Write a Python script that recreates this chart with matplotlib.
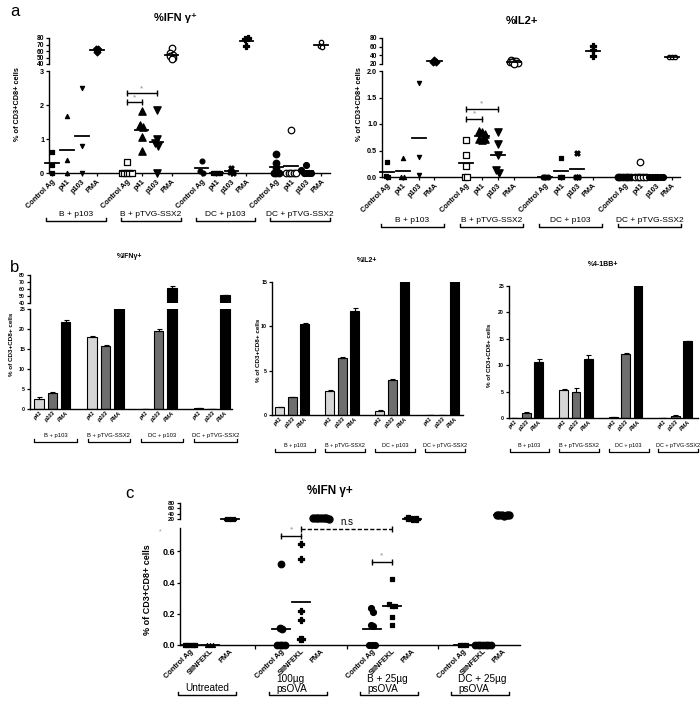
import numpy as np
import matplotlib.pyplot as plt
from matplotlib.transforms import blended_transform_factory

plt.rcParams['font.family'] = ['Liberation Sans', 'DejaVu Sans']
plt.rcParams['axes.linewidth'] = 1.0

W, H = 700, 703

# ---------- panel a: dot plots (IFNg / IL2)
a_groups = ["B + p103", "B + pTVG-SSX2", "DC + p103", "DC + pTVG-SSX2"]
a_stims = ["Control Ag", "p41", "p103", "PMA"]
ifn_a = [
    [0.61, 0.25, 0.0], [1.69, 0.38, 0.0], [2.49, 0.80, 0.0], [63, 58, 63],
    [0.32, 0, 0, 0, 0, 0], [1.82, 1.42, 1.36, 1.07, 0.65], [1.85, 1.0, 0.87, 0.8, 0.0], [65, 57, 54, 52, 50, 48],
    [0.35, 0.05, 0.0], [0, 0, 0, 0], [0.14, 0.02, 0.0], [79, 80, 67],
    [0.56, 0.28, 0.15, 0, 0, 0], [1.27, 0, 0, 0, 0, 0], [0.23, 0.1, 0, 0, 0, 0], [74, 67, 66],
]
il2_a = [
    [0.29, 0.02, 0.0], [0.35, 0.0, 0.0], [1.77, 0.38, 0.03], [30, 25, 24],
    [0.70, 0.42, 0.2, 0, 0], [0.87, 0.85, 0.82, 0.72, 0.70, 0.72], [0.85, 0.62, 0.42, 0.14, 0.08], [30, 28, 27, 25, 24, 23, 22, 21],
    [0, 0, 0], [0.36, 0, 0], [0.46, 0, 0], [62, 52, 38],
    [0, 0, 0, 0, 0, 0], [0.28, 0, 0, 0, 0, 0], [0, 0, 0, 0, 0, 0], [36, 35, 37],
]

# ---------- panel b: bar charts (mean, upper error)
b_groups = a_groups
b_stims = ["p41", "p103", "PMA"]
ifn_b = [2.6, 4.0, 21.8, 17.9, 15.7, 30, 0, 19.4, 61, 0.3, 0.1, 51]
ifn_b_err = [0.3, 0.2, 0.5, 0.3, 0.3, 0, 0, 0.5, 3, 0, 0, 0]
il2_b = [0.9, 2.0, 10.3, 2.7, 6.4, 11.7, 0.45, 4.0, 16, 0.05, 0.05, 16]
il2_b_err = [0.05, 0.05, 0.05, 0.15, 0.15, 0.35, 0.1, 0.1, 0, 0, 0, 0]
bb_b = [0, 1.0, 10.6, 5.3, 5.0, 11.2, 0.1, 12.2, 26, 0, 0.4, 14.6]
bb_b_err = [0, 0.1, 0.5, 0.2, 0.6, 0.7, 0, 0.2, 0, 0, 0.1, 0]

# ---------- panel c: dot plot
c_groups = ["Untreated", "100\u00b5g\npsOVA", "B + 25\u00b5g\npsOVA", "DC + 25\u00b5g\npsOVA"]
c_stims = ["Control Ag", "SIINFEKL", "PMA"]
ifn_c = [
    [0, 0, 0, 0, 0], [0, 0, 0], [20, 20, 20, 20],
    [0.52, 0.11, 0.10, 0, 0, 0, 0], [0.65, 0.55, 0.22, 0.16, 0.04, 0.04], [24, 24, 23, 23, 22, 22, 21],
    [0.24, 0.21, 0.13, 0.12, 0, 0, 0], [0.42, 0.26, 0.25, 0.25, 0.18, 0.13], [22, 22, 21, 21, 20],
    [0, 0, 0], [0, 0, 0, 0, 0, 0, 0], [36, 35, 34, 33, 35, 34],
]

# marker styles (marker, filled, size)
a_marks = [('s', 1, 9), ('^', 1, 9), ('v', 1, 9), ('D', 1, 12),
           ('s', 0, 16), ('^', 1, 28), ('v', 1, 28), ('o', 0, 22),
           ('o', 1, 12), ('s', 1, 12), ('X', 1, 14), ('P', 1, 16),
           ('o', 1, 22), ('o', 0, 22), ('o', 1, 18), ('o', 0, 10)]
c_marks = [('s', 1, 10), ('^', 1, 8), ('P', 1, 12),
           ('o', 1, 22), ('P', 1, 20), ('o', 1, 26),
           ('o', 1, 18), ('s', 1, 5), ('P', 1, 14),
           ('s', 1, 10), ('o', 1, 22), ('o', 1, 26)]

fig = plt.figure(figsize=(7, 7.03), dpi=100)


def rect(l, t, r, b):
    return [l / W, 1 - b / H, (r - l) / W, (b - t) / H]


def style(ax, fs=5.5, bold=True):
    ax.patch.set_alpha(0)
    ax.spines['top'].set_visible(False)
    ax.spines['right'].set_visible(False)
    ax.tick_params(direction='out', length=2.5, width=0.9, labelsize=fs, pad=1)
    if bold:
        for t in ax.get_yticklabels():
            t.set_fontweight('bold')


def spread(vals, step, split, up_top):
    offs = np.zeros(len(vals))
    done = np.zeros(len(vals), bool)
    for i in range(len(vals)):
        if done[i]:
            continue
        tol = 0.04 * (split if vals[i] <= split else up_top)
        idx = np.where(~done & (np.abs(vals - vals[i]) <= tol))[0]
        done[idx] = True
        offs[idx] = (np.arange(len(idx)) - (len(idx) - 1) / 2) * step
    return offs


def dots(ax_up, ax_lo, data, marks, pos, split, up_top, step, half):
    for k, vals in enumerate(data):
        vals = np.asarray(vals, float)
        m, filled, sz = marks[k]
        x = pos[k] + spread(vals, step, split, up_top)
        for ax, sel in ((ax_lo, vals <= split), (ax_up, vals > split)):
            if sel.any():
                ax.scatter(x[sel], vals[sel], marker=m, s=sz,
                           facecolor='k' if filled else 'white', edgecolor='k',
                           linewidths=0.9, clip_on=False, zorder=3)
        mean = vals.mean()
        ax = ax_lo if mean <= split else ax_up
        ax.plot([pos[k] - half, pos[k] + half], [mean, mean], color='k', lw=1.3,
                clip_on=False, zorder=4)


def sig(ax, x0, x1, y, ys, ls='-', label='*', fs=6, color='0.55'):
    ax.plot([x0, x1], [y, y], color='k', lw=1, ls=ls, clip_on=False)
    ax.plot([x0, x1], [y, y], ls='none', marker='|', ms=4, mew=1, color='k', clip_on=False)
    ax.text((x0 + x1) / 2, ys, label, ha='center', va='center', fontsize=fs, color=color)


def bracket(ax, x0, x1, y_px, text, t_px, fs, ha='center', tx=None, weight='normal', lw=1.0):
    tr = blended_transform_factory(ax.transData, fig.transFigure)
    yb, yt = 1 - y_px / H, 1 - (y_px - 3) / H
    ax.plot([x0, x0, x1, x1], [yt, yb, yb, yt], transform=tr, color='k', lw=lw, clip_on=False)
    if tx is None:
        tx = (x0 + x1) / 2
    ax.text(tx, 1 - t_px / H, text, transform=tr, ha=ha, va='center', fontsize=fs,
            fontweight=weight, linespacing=1.05)


def xlim_px(ax, l, r, c0, u):
    ax.set_xlim((l - c0) / u, (r - c0) / u)


def broken(l, r, up, lo, ylim_up, ylim_lo, yt_up, yt_lo, c0, u, fs_up=5.5, fs_lo=5.5):
    ax_up = fig.add_axes(rect(l, up[0], r, up[1]))
    ax_lo = fig.add_axes(rect(l, lo[0], r, lo[1]))
    ax_up.set_ylim(*ylim_up)
    ax_up.set_yticks(yt_up)
    ax_lo.set_ylim(*ylim_lo)
    ax_lo.set_yticks(yt_lo)
    for ax, fs in ((ax_up, fs_up), (ax_lo, fs_lo)):
        xlim_px(ax, l, r, c0, u)
        style(ax, fs)
    ax_up.spines['bottom'].set_visible(False)
    ax_up.tick_params(axis='x', bottom=False, labelbottom=False)
    return ax_up, ax_lo


# ================= panel a =================
fig.text(10 / W, 1 - 12 / H, "a", fontsize=12, va='center')
pos_a = [5 * g + j for g in range(4) for j in range(4)]
lab_a = [s for g in range(4) for s in a_stims]

for (l, r, c0, u, data, ylo, ytlo, yup, ytup, title, tx, ty, ylx, sigs, br_y, br_t) in [
    (49, 330, 52, 14.95, ifn_a, (0, 3), [0, 1, 2, 3], (40, 80), [40, 50, 60, 70, 80],
     "%IFN \u03b3\u207a", 175, 18, 18, [(5, 6, 2.1, 2.22), (5, 7, 2.35, 2.47)], 221, 214),
    (382, 680, 387, 15.83, il2_a, (0, 2.0), [0, 0.5, 1.0, 1.5, 2.0], (20, 80), [20, 40, 60, 80],
     "%IL2+", 522, 21, 359, [(5, 6, 1.1, 1.19), (5, 7, 1.28, 1.37)], 227, 220),
]:
    lo_b = 173 if data is ifn_a else 177
    ax_up, ax_lo = broken(l, r, (38, 64), (71, lo_b), yup, ylo, ytup, ytlo, c0, u,
                          fs_up=4.8, fs_lo=5.2)
    if data is il2_a:
        ax_lo.set_yticklabels(["0.0", "0.5", "1.0", "1.5", "2.0"], fontweight='bold')
    dots(ax_up, ax_lo, data, a_marks, pos_a, ylo[1], yup[1], 0.17, 0.45)
    ax_lo.set_xticks(pos_a)
    ax_lo.set_xticklabels(lab_a, rotation=45, ha='right', va='top', rotation_mode='anchor',
                          fontsize=5.3, fontweight='bold')
    for x0, x1, y, ys in sigs:
        sig(ax_lo, x0, x1, y, ys)
    for g in range(4):
        bracket(ax_lo, 5 * g - 0.4, 5 * g + 3.6, br_y, a_groups[g], br_t, 6)
    fig.text(tx / W, 1 - ty / H, title, ha='center', va='center', fontsize=8, fontweight='bold')
    fig.text(ylx / W, 1 - 104 / H, "% of CD3+CD8+ cells", rotation=90, ha='center',
             va='center', fontsize=5.3, fontweight='bold')

# ================= panel b =================
fig.text(10 / W, 1 - 268 / H, "b", fontsize=12, va='center')
pos_b = [4 * g + j for g in range(4) for j in range(3)]
lab_b = [s for g in range(4) for s in b_stims]
bar_cols = ['#d6d6d6', '#6e6e6e', '#000000'] * 4


def bars(ax, vals, errs):
    ax.bar(pos_b, vals, width=0.72, color=bar_cols, edgecolor='k', linewidth=0.8, zorder=2)
    ax.errorbar(pos_b, vals, yerr=[np.zeros(len(errs)), errs], fmt='none', ecolor='k',
                elinewidth=0.8, capsize=1.8, capthick=0.8, zorder=3)


def bar_ticks(ax):
    ax.set_xticks(pos_b)
    ax.set_xticklabels(lab_b, rotation=45, ha='right', va='top', rotation_mode='anchor',
                       fontsize=4, fontstyle='italic', fontweight='bold')
    ax.tick_params(axis='x', length=0)


# left: IFN (broken)
bu, bl = broken(30, 232, (275, 303), (309, 409), (40, 80), (0, 25), [40, 50, 60, 70, 80],
                [0, 5, 10, 15, 20, 25], 39, 13.3, fs_up=3.8, fs_lo=3.8)
bars(bu, ifn_b, ifn_b_err)
bars(bl, ifn_b, ifn_b_err)
bar_ticks(bl)
for g in range(4):
    bracket(bl, 4 * g - 0.35, 4 * g + 2.85, 442, b_groups[g], 436, 4.2, lw=0.9)
fig.text(130 / W, 1 - 257 / H, "%IFN\u03b3+", ha='center', va='center', fontsize=5, fontweight='bold')
fig.text(12 / W, 1 - 344 / H, "% of CD3+CD8+ cells", rotation=90, ha='center', va='center',
         fontsize=4.5, fontweight='bold')

# middle: IL2, right: 4-1BB
for (l, r, t, b, c0, u, vals, errs, ylim, yt, title, tx, ty, ylx, yly) in [
    (272, 463, 282, 415, 279.5, 12.5, il2_b, il2_b_err, (0, 15), [0, 5, 10, 15],
     "%IL2+", 367, 261, 258, 350),
    (509, 698, 286, 418, 514, 12.4, bb_b, bb_b_err, (0, 25), [0, 5, 10, 15, 20, 25],
     "%4-1BB+", 603, 265, 490, 355),
]:
    ax = fig.add_axes(rect(l, t, r, b))
    ax.set_ylim(*ylim)
    ax.set_yticks(yt)
    xlim_px(ax, l, r, c0, u)
    style(ax, 3.8)
    bars(ax, vals, errs)
    bar_ticks(ax)
    for g in range(4):
        bracket(ax, 4 * g - 0.35, 4 * g + 2.85, 452, b_groups[g], 445, 4.0, lw=0.9)
    fig.text(tx / W, 1 - ty / H, title, ha='center', va='center', fontsize=5, fontweight='bold')
    fig.text(ylx / W, 1 - yly / H, "% of CD3+CD8+ cells", rotation=90, ha='center',
             va='center', fontsize=4.5, fontweight='bold')

# ================= panel c =================
fig.text(125 / W, 1 - 493 / H, "c", fontsize=12, va='center')
pos_c = [4.55 * g + j for g in range(4) for j in range(3)]
lab_c = [s for g in range(4) for s in c_stims]
cu, cl = broken(180, 520, (503, 519), (528, 645), (20, 80), (0, 0.75), [20, 40, 60, 80],
                [0, 0.2, 0.4, 0.6], 190, 20, fs_up=4.5, fs_lo=6.5)
cl.set_yticklabels(["0.0", "0.2", "0.4", "0.6"], fontweight='bold')
dots(cu, cl, ifn_c, c_marks, pos_c, 0.75, 80, 0.13, 0.45)
cl.set_xticks(pos_c)
cl.set_xticklabels(lab_c, rotation=45, ha='right', va='top', rotation_mode='anchor',
                   fontsize=5.3, fontweight='bold')
cl.tick_params(axis='x', length=0, pad=2)
cl.set_xticks([(pos_c[3 * g + 2] + pos_c[3 * g + 3]) / 2 for g in range(3)], minor=True)
cl.tick_params(axis='x', which='minor', length=3, width=0.9)

sig(cl, pos_c[3], pos_c[4], 0.70, 0.74)
sig(cl, pos_c[4], pos_c[7], 0.745, 0.79, ls=(0, (3, 1.5)), label="n.s", fs=7, color='k')
sig(cl, pos_c[6], pos_c[7], 0.53, 0.57)
fig.text(160 / W, 1 - 532 / H, "*", ha='center', va='center', fontsize=5, color='0.6')

for g in range(4):
    x0 = pos_c[3 * g] - 0.6
    x1 = pos_c[3 * g] + 2.3
    if g == 0:
        bracket(cl, x0, x1, 695, c_groups[g], 688, 7.2)
    else:
        bracket(cl, x0, x1, 695, c_groups[g], 684, 7.2, ha='left', tx=x0 + 0.35)

fig.text(330 / W, 1 - 491 / H, "%IFN \u03b3+", ha='center', va='center', fontsize=8.5,
         fontweight='bold')
fig.text(147 / W, 1 - 590 / H, "% of CD3+CD8+ cells", rotation=90, ha='center', va='center',
         fontsize=6.5, fontweight='bold')

fig.savefig("out.png", dpi=100)
